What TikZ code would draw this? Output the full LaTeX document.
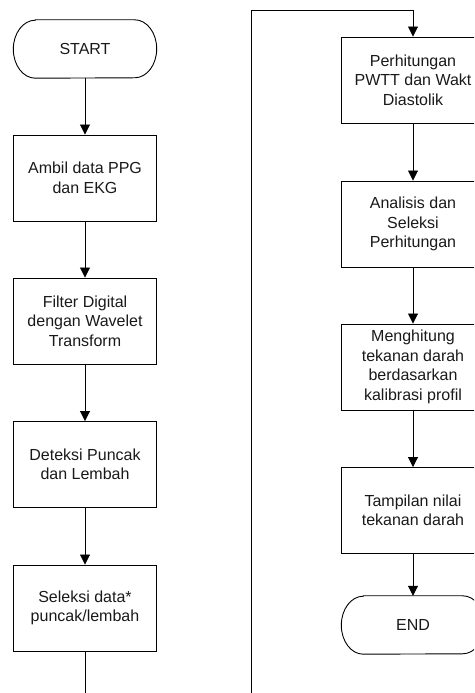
\documentclass[tikz,border=0pt]{standalone}
\usepackage{fontspec}
\setmainfont{Liberation Sans}
\usetikzlibrary{arrows.meta}
\newcommand\termoutline[1]{%
  \draw[line width=0.9pt] ([xshift=22pt]#1.north west) -- ([xshift=-22pt]#1.north east)
    arc[start angle=90,end angle=-90,x radius=22pt,y radius=29pt]
    -- ([xshift=22pt]#1.south west)
    arc[start angle=270,end angle=90,x radius=22pt,y radius=29pt] -- cycle;}
\begin{document}
\begin{tikzpicture}[x=1pt,y=1pt,
  txt/.style={align=center, font=\fontsize{16}{19.5}\selectfont, inner sep=0pt, text=black!90},
  proc/.style={txt, draw, line width=0.9pt, minimum width=143pt, minimum height=86pt},
  term/.style={txt, minimum width=143pt, minimum height=58pt},
  conn/.style={line width=0.9pt, -{Triangle[width=10pt,length=10pt]}},
  wire/.style={line width=0.9pt}]
\useasboundingbox (0,0) rectangle (474,693);
\clip (0,0) rectangle (474,693);
% left column
\node[term] (start) at (85,644) {START};
\termoutline{start}
\node[proc] (a) at (85,515) {Ambil data PPG\\dan EKG};
\node[proc] (b) at (85,372) {Filter Digital\\dengan Wavelet\\Transform};
\node[proc] (c) at (85,228.5) {Deteksi Puncak\\dan Lembah};
\node[proc] (d) at (85,85) {Seleksi data*\\puncak/lembah};
\coordinate (lbot) at (85,0);
% right column
\node[proc] (r1) at (413,613) {Perhitungan\\PWTT dan Wakt\\Diastolik};
\node[proc] (r2) at (413,469) {Analisis dan\\Seleksi\\Perhitungan};
\node[proc] (r3) at (413,326) {Menghitung\\tekanan darah\\berdasarkan\\kalibrasi profil};
\node[proc] (r4) at (413,182.5) {Tampilan nilai\\tekanan darah};
\node[term] (end) at (413,68) {END};
\termoutline{end}
\coordinate (rbot) at (251,0);
\coordinate (rtop) at (251,683);
% connectors
\draw[conn] (start) -- (a);
\draw[conn] (a) -- (b);
\draw[conn] (b) -- (c);
\draw[conn] (c) -- (d);
\draw[wire] (d) -- (lbot);
\draw[conn] (rbot) -- (rtop) -| (r1);
\draw[conn] (r1) -- (r2);
\draw[conn] (r2) -- (r3);
\draw[conn] (r3) -- (r4);
\draw[conn] (r4) -- (end);
\end{tikzpicture}
\end{document}
